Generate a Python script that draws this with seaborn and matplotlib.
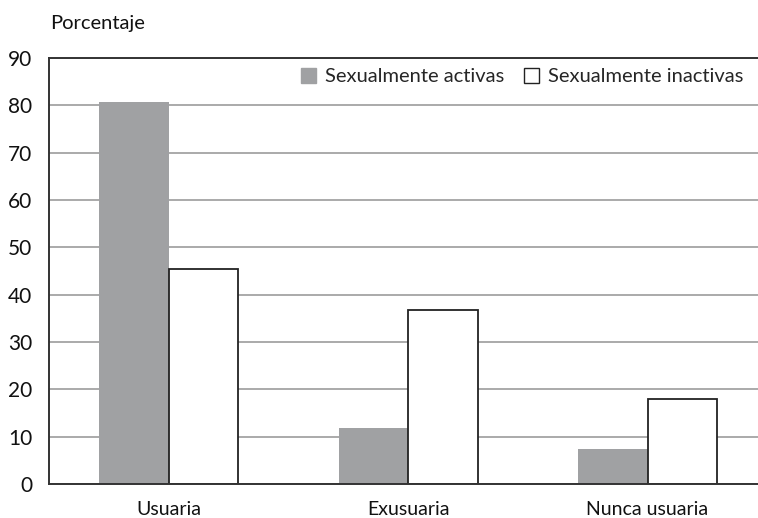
import matplotlib
matplotlib.use("Agg")
import matplotlib.pyplot as plt
import seaborn as sns
import pandas as pd
from matplotlib.patches import Patch

categories = ["Usuaria", "Exusuaria", "Nunca usuaria"]
series = ["Sexualmente activas", "Sexualmente inactivas"]
activas = [80.7, 11.8, 7.4]
inactivas = [45.4, 36.8, 18.0]
yticks = [0, 10, 20, 30, 40, 50, 60, 70, 80, 90]

df = pd.DataFrame({
    "cat": categories * 2,
    "grupo": [series[0]] * 3 + [series[1]] * 3,
    "val": activas + inactivas,
})

sns.set_style("white")
plt.rcParams["font.family"] = ["Lato", "DejaVu Sans"]

fig = plt.figure(figsize=(7.58, 5.18), dpi=100)
ax = fig.add_axes([0.0646, 0.0656, 0.935, 0.8225])

gray = "#A0A1A3"
sns.barplot(data=df, x="cat", y="val", hue="grupo", order=categories,
            hue_order=series, palette=[gray, "white"], width=0.58,
            ax=ax, legend=False, errorbar=None, saturation=1)

for i, p in enumerate(ax.patches):
    if i < 3:
        p.set_edgecolor(gray)
        p.set_linewidth(0)
    else:
        p.set_edgecolor("#222222")
        p.set_linewidth(1.3)

ax.set_ylim(0, 90)
ax.set_xlim(-0.5, 2.46)
ax.set_yticks(yticks)
ax.yaxis.grid(True, color="#AAAAAA", linewidth=1.4)
ax.set_axisbelow(True)
ax.set_xlabel("")
ax.set_ylabel("")
ax.tick_params(axis="both", length=0, labelsize=14, colors="#111111")
ax.tick_params(axis="y", labelsize=15, pad=12)
ax.tick_params(axis="x", pad=12)

for s in ["left", "bottom", "top"]:
    ax.spines[s].set_color("#333333")
    ax.spines[s].set_linewidth(1.4)
ax.spines["right"].set_visible(False)

handles = [Patch(facecolor=gray, edgecolor=gray),
           Patch(facecolor="white", edgecolor="#222222", linewidth=1.0)]
leg = ax.legend(handles, series, loc="upper right", frameon=False, ncol=2,
                fontsize=14.5, handlelength=0.75, handleheight=0.75,
                handletextpad=0.45, columnspacing=1.0,
                bbox_to_anchor=(1.0, 1.01), borderaxespad=0.3)

fig.text(0.066, 0.955, "Porcentaje", fontsize=14.5, ha="left", va="center", color="#111111")

fig.savefig("out.png", dpi=100)
